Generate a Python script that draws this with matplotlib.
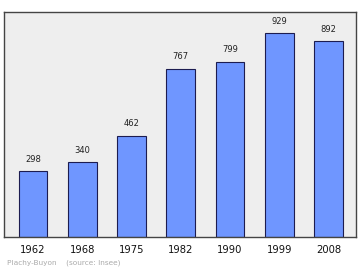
import matplotlib
matplotlib.use("Agg")
import matplotlib.pyplot as plt

years = ["1962", "1968", "1975", "1982", "1990", "1999", "2008"]
population = [298, 340, 462, 767, 799, 929, 892]

fig = plt.figure(figsize=(3.6, 2.7), dpi=100)
fig.patch.set_facecolor("white")
ax = fig.add_axes([4/360, 1 - 236.7/270, 351.7/360, 224.7/270])
ax.set_facecolor("#eeeeee")

x = list(range(len(years)))
ax.bar(x, population, width=0.58, color="#6f96ff", edgecolor="#1c1c50", linewidth=0.8, zorder=2)
for xi, v in zip(x, population):
    ax.annotate(str(v), (xi, v), xytext=(0, 5.5), textcoords="offset points",
                ha="center", va="bottom", fontsize=6, color="#222222")

ax.set_xlim(-0.589, 6.552)
ax.set_ylim(0, 1026)
ax.set_yticks([])
ax.set_xticks(x)
ax.set_xticklabels(years, fontsize=7.2, color="#111111")
ax.tick_params(axis="x", length=0, pad=6)
for side in ["left", "right", "top", "bottom"]:
    ax.spines[side].set_color("#444444")
    ax.spines[side].set_linewidth(1.0)

fig.text(7/360, 1 - 263/270, "Plachy-Buyon    (source: Insee)", fontsize=5.3,
         color="#aaaaaa", ha="left", va="center")

fig.savefig("out.png", dpi=100)
